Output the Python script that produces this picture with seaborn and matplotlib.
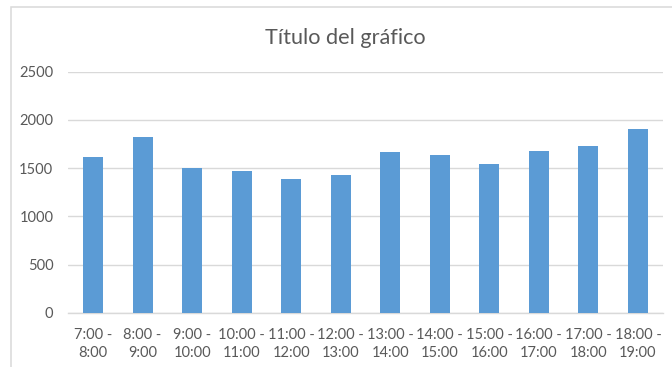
import matplotlib
matplotlib.use("Agg")
import matplotlib.pyplot as plt
import seaborn as sns
import pandas as pd
from matplotlib.patches import Rectangle

# Hourly intervals and their counts
franjas = ["7:00 -\n8:00", "8:00 -\n9:00", "9:00 -\n10:00", "10:00 -\n11:00",
           "11:00 -\n12:00", "12:00 -\n13:00", "13:00 -\n14:00", "14:00 -\n15:00",
           "15:00 -\n16:00", "16:00 -\n17:00", "17:00 -\n18:00", "18:00 -\n19:00"]
valores = [1620, 1825, 1500, 1475, 1390, 1425, 1670, 1635, 1540, 1680, 1732, 1905]
ticks_y = [0, 500, 1000, 1500, 2000, 2500]
titulo = "Título del gráfico"

df = pd.DataFrame({"franja": franjas, "valor": valores})

sns.set_theme(style="white")
plt.rcParams["font.family"] = ["Lato", "DejaVu Sans"]

W, H = 672, 367
fig = plt.figure(figsize=(W / 100, H / 100), dpi=100)
fig.patch.set_facecolor("white")

# light chart frame, partly cut off at the right and bottom
fig.patches.append(Rectangle((11 / W, -0.1), 1.2, (H - 7.5) / H + 0.1,
                             transform=fig.transFigure, fill=False,
                             edgecolor="#d9d9d9", linewidth=1.1, zorder=0))

left, right = 68.3 / W, 662.7 / W
bottom, top = (H - 312.7) / H, (H - 71.7) / H
ax = fig.add_axes([left, bottom, right - left, top - bottom])
ax.set_facecolor("none")

sns.barplot(data=df, x="franja", y="valor", color="#5b9bd5", width=0.40,
            saturation=1, linewidth=0, ax=ax, zorder=3)

ax.set_ylim(0, 2500)
ax.set_xlim(-0.5, len(franjas) - 0.5)
ax.set_yticks(ticks_y)
ax.set_yticklabels([str(t) for t in ticks_y])
ax.yaxis.grid(True, color="#d9d9d9", linewidth=1.0, zorder=0)
ax.xaxis.grid(False)
for s in ["left", "right", "top"]:
    ax.spines[s].set_visible(False)
ax.spines["bottom"].set_color("#d9d9d9")
ax.spines["bottom"].set_linewidth(1.0)
ax.tick_params(axis="both", length=0, labelsize=10.5, labelcolor="#595959")
ax.tick_params(axis="x", pad=11)
ax.tick_params(axis="y", pad=10.8)
ax.set_xlabel("")
ax.set_ylabel("")
for lbl in ax.get_xticklabels():
    lbl.set_linespacing(1.4)

fig.text(345 / W, 1 - 44.3 / H, titulo, ha="center", va="baseline",
         fontsize=15.6, color="#595959")

fig.savefig("out.png", dpi=100, facecolor="white")
